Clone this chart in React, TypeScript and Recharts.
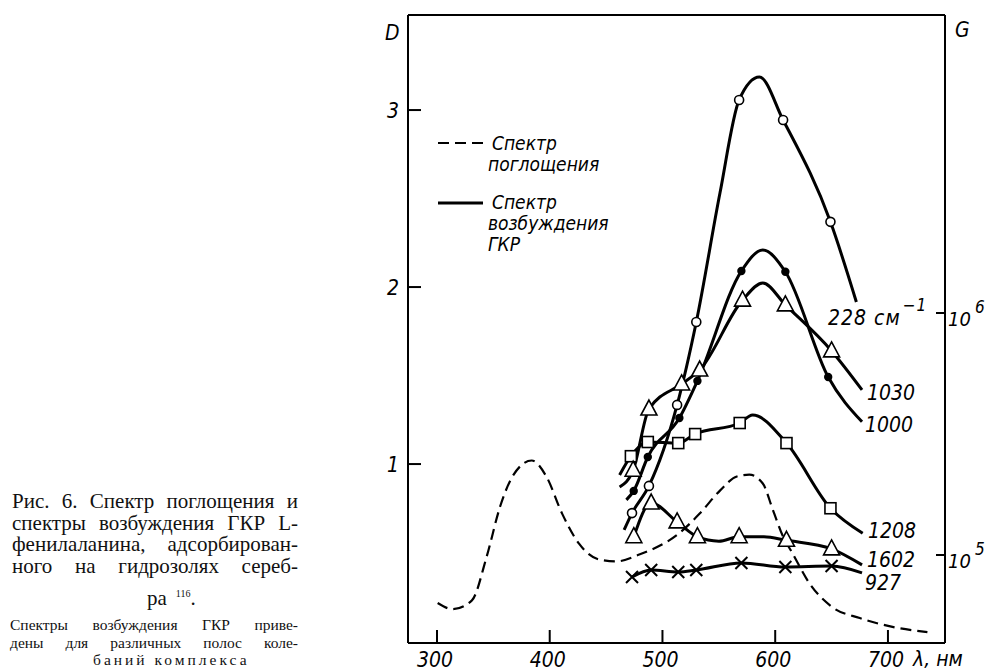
import React from "react";
import { ComposedChart, Line, XAxis, YAxis, ReferenceLine } from "recharts";

const FIG_FONT = "'DejaVu Sans Condensed', 'DejaVu Sans', sans-serif";
const TEXT_FONT = "'Liberation Serif', 'DejaVu Serif', serif";

const xTicks = [300, 400, 500, 600, 700];
const dTicks = [1, 2, 3];
const gTicks = [1e5, 1e6];

// спектр поглощения, D (левая шкала)
const absorption = [
  { l: 300.6, d: 0.215 },
  { l: 314, d: 0.18 },
  { l: 331, d: 0.23 },
  { l: 344, d: 0.475 },
  { l: 356, d: 0.76 },
  { l: 367, d: 0.93 },
  { l: 384, d: 1.02 },
  { l: 397, d: 0.93 },
  { l: 411, d: 0.72 },
  { l: 426, d: 0.55 },
  { l: 444, d: 0.46 },
  { l: 459, d: 0.45 },
  { l: 480, d: 0.49 },
  { l: 515, d: 0.61 },
  { l: 533, d: 0.72 },
  { l: 551, d: 0.85 },
  { l: 566, d: 0.93 },
  { l: 577, d: 0.94 },
  { l: 589, d: 0.89 },
  { l: 598, d: 0.74 },
  { l: 607, d: 0.59 },
  { l: 615, d: 0.5 },
  { l: 630, d: 0.33 },
  { l: 651, d: 0.19 },
  { l: 675, d: 0.13 },
  { l: 704, d: 0.08 },
  { l: 735, d: 0.05 },
];

// спектры возбуждения ГКР, G (правая шкала); m — точка с маркером
const band228 = [
  { l: 466, g: 1.27e5 },
  { l: 473, g: 1.49e5, m: true },
  { l: 488, g: 1.93e5, m: true },
  { l: 513, g: 4.17e5, m: true },
  { l: 530, g: 9.18e5, m: true },
  { l: 551, g: 3.13e6 },
  { l: 568, g: 7.59e6, m: true },
  { l: 586, g: 9.44e6 },
  { l: 607, g: 6.27e6, m: true },
  { l: 649, g: 2.38e6, m: true },
  { l: 672, g: 1.11e6 },
];

const band1000 = [
  { l: 468, g: 1.69e5 },
  { l: 474.5, g: 1.84e5, m: true },
  { l: 487, g: 2.54e5, m: true },
  { l: 515, g: 3.68e5, m: true },
  { l: 531, g: 5.24e5, m: true },
  { l: 570, g: 1.49e6, m: true },
  { l: 589, g: 1.82e6 },
  { l: 609, g: 1.48e6, m: true },
  { l: 647, g: 5.44e5, m: true },
  { l: 677, g: 3.55e5 },
];

const band1030 = [
  { l: 462, g: 1.91e5 },
  { l: 474, g: 2.24e5, m: true },
  { l: 488, g: 4.01e5, m: true },
  { l: 517, g: 5.09e5, m: true },
  { l: 533, g: 5.81e5, m: true },
  { l: 571, g: 1.13e6, m: true },
  { l: 589, g: 1.33e6 },
  { l: 609, g: 1.08e6, m: true },
  { l: 650, g: 6.97e5, m: true },
  { l: 677, g: 4.81e5 },
];

const band1208 = [
  { l: 462, g: 2.14e5 },
  { l: 472, g: 2.56e5, m: true },
  { l: 487, g: 2.93e5, m: true },
  { l: 514, g: 2.9e5, m: true },
  { l: 529, g: 3.16e5, m: true },
  { l: 568.5, g: 3.51e5, m: true },
  { l: 580, g: 3.79e5 },
  { l: 610, g: 2.9e5, m: true },
  { l: 649, g: 1.56e5, m: true },
  { l: 677.6, g: 1.23e5 },
];

const band1602 = [
  { l: 474.6, g: 1.19e5, m: true },
  { l: 490, g: 1.64e5, m: true },
  { l: 513, g: 1.37e5, m: true },
  { l: 531, g: 1.19e5, m: true },
  { l: 550, g: 1.14e5 },
  { l: 568, g: 1.19e5, m: true },
  { l: 590, g: 1.19e5 },
  { l: 610, g: 1.15e5, m: true },
  { l: 650, g: 1.06e5, m: true },
  { l: 677, g: 9.1e4 },
];

const band927 = [
  { l: 473, g: 8.11e4, m: true },
  { l: 490, g: 8.67e4, m: true },
  { l: 514, g: 8.51e4, m: true },
  { l: 530, g: 8.67e4, m: true },
  { l: 570, g: 9.27e4, m: true },
  { l: 609, g: 8.92e4, m: true },
  { l: 650, g: 9.0e4, m: true },
  { l: 677, g: 8.43e4 },
];

const marker = (kind: string) => (props: any) => {
  const { cx, cy, payload, index } = props;
  const k = `${kind}-${index}`;
  if (!payload || !payload.m || cx == null || cy == null) return <g key={k} />;
  if (kind === "circle")
    return <circle key={k} cx={cx} cy={cy} r={4.5} fill="#fff" stroke="#000" strokeWidth={1.6} />;
  if (kind === "dot") return <circle key={k} cx={cx} cy={cy} r={4.2} fill="#000" />;
  if (kind === "triangle")
    return (
      <path
        key={k}
        d={`M${cx},${cy - 9} L${cx + 8},${cy + 6} L${cx - 8},${cy + 6} Z`}
        fill="#fff"
        stroke="#000"
        strokeWidth={1.6}
      />
    );
  if (kind === "square")
    return (
      <rect key={k} x={cx - 5.5} y={cy - 5.5} width={11} height={11} fill="#fff" stroke="#000" strokeWidth={1.6} />
    );
  return (
    <path
      key={k}
      d={`M${cx - 6},${cy - 6} L${cx + 6},${cy + 6} M${cx + 6},${cy - 6} L${cx - 6},${cy + 6}`}
      stroke="#000"
      strokeWidth={2}
    />
  );
};

const XTick = (props: any) => {
  const { x, y, payload } = props;
  return (
    <g>
      <line x1={x} x2={x} y1={y} y2={y - 13} stroke="#000" strokeWidth={2} />
      <text x={x - 2} y={y + 24} textAnchor="middle" fontFamily={FIG_FONT} fontStyle="italic" fontSize={21} fill="#000">
        {payload.value}
      </text>
    </g>
  );
};

const DTick = (props: any) => {
  const { x, y, payload } = props;
  return (
    <g>
      <line x1={x} x2={x + 13} y1={y} y2={y} stroke="#000" strokeWidth={2} />
      <text x={x - 9} y={y + 8} textAnchor="end" fontFamily={FIG_FONT} fontStyle="italic" fontSize={21} fill="#000">
        {payload.value}
      </text>
    </g>
  );
};

const GTick = (props: any) => {
  const { x, y, payload } = props;
  const exp = Math.round(Math.log10(payload.value));
  return (
    <g>
      <line x1={x} x2={x - 9} y1={y} y2={y} stroke="#000" strokeWidth={2} />
      <text x={x + 3} y={y + 13} fontFamily={FIG_FONT} fontStyle="italic" fontSize={20} fill="#000">
        10
        <tspan dx={4} dy={-13} fontSize={17}>
          {exp}
        </tspan>
      </text>
    </g>
  );
};

const txt = { fontFamily: FIG_FONT, fontStyle: "italic" as const, fill: "#000" };

const lineStyle = {
  fontSize: 21,
  lineHeight: "21.7px",
  height: 21.7,
  whiteSpace: "nowrap" as const,
  textAlign: "justify" as const,
  textAlignLast: "justify" as const,
};
const smallStyle = {
  fontSize: 15.5,
  lineHeight: "17.5px",
  height: 17.5,
  whiteSpace: "nowrap" as const,
  textAlign: "justify" as const,
  textAlignLast: "justify" as const,
};

export default function App() {
  return (
    <div style={{ position: "absolute", left: 0, top: 0, width: 990, height: 672, background: "#fff" }}>
      <ComposedChart width={990} height={672} margin={{ top: 15, right: 0, bottom: 0, left: 368 }}>
        <XAxis
          type="number"
          dataKey="l"
          domain={[274.3, 750.6]}
          ticks={xTicks}
          allowDataOverflow
          height={29}
          tickSize={0}
          tickMargin={0}
          tick={<XTick />}
          axisLine={{ stroke: "#000", strokeWidth: 2 }}
        />
        <YAxis
          yAxisId="D"
          orientation="left"
          type="number"
          domain={[-0.011, 3.537]}
          ticks={dTicks}
          allowDataOverflow
          width={40}
          tickSize={0}
          tickMargin={0}
          tick={<DTick />}
          axisLine={{ stroke: "#000", strokeWidth: 2 }}
        />
        <YAxis
          yAxisId="G"
          orientation="right"
          type="number"
          scale="log"
          domain={[43290, 1.703e7]}
          ticks={gTicks}
          allowDataOverflow
          width={45}
          tickSize={0}
          tickMargin={0}
          tick={<GTick />}
          axisLine={{ stroke: "#000", strokeWidth: 2 }}
        />
        <ReferenceLine yAxisId="D" y={3.537} stroke="#000" strokeWidth={2} />
        <Line
          yAxisId="D"
          data={absorption}
          dataKey="d"
          type="monotone"
          stroke="#000"
          strokeWidth={2.2}
          strokeDasharray="11 6"
          dot={false}
          isAnimationActive={false}
        />
        <Line yAxisId="G" data={band927} dataKey="g" type="monotone" stroke="#000" strokeWidth={3} dot={marker("cross")} isAnimationActive={false} />
        <Line yAxisId="G" data={band1602} dataKey="g" type="monotone" stroke="#000" strokeWidth={3} dot={marker("triangle")} isAnimationActive={false} />
        <Line yAxisId="G" data={band1208} dataKey="g" type="monotone" stroke="#000" strokeWidth={3} dot={marker("square")} isAnimationActive={false} />
        <Line yAxisId="G" data={band1000} dataKey="g" type="monotone" stroke="#000" strokeWidth={3} dot={marker("dot")} isAnimationActive={false} />
        <Line yAxisId="G" data={band1030} dataKey="g" type="monotone" stroke="#000" strokeWidth={3} dot={marker("triangle")} isAnimationActive={false} />
        <Line yAxisId="G" data={band228} dataKey="g" type="monotone" stroke="#000" strokeWidth={3} dot={marker("circle")} isAnimationActive={false} />
      </ComposedChart>

      <svg width={990} height={672} style={{ position: "absolute", left: 0, top: 0, pointerEvents: "none" }}>
        <text x={385} y={40} fontSize={21} {...txt}>D</text>
        <text x={955} y={37} fontSize={21} {...txt}>G</text>

        <line x1={438} x2={483} y1={143} y2={143} stroke="#000" strokeWidth={2.2} strokeDasharray="11 6" />
        <text x={492} y={150} fontSize={19} {...txt}>Спектр</text>
        <text x={488} y={171} fontSize={19} {...txt}>поглощения</text>

        <line x1={438} x2={483} y1={203} y2={203} stroke="#000" strokeWidth={3.2} />
        <text x={492} y={209} fontSize={19} {...txt}>Спектр</text>
        <text x={488} y={230} fontSize={19} {...txt}>возбуждения</text>
        <text x={488} y={251} fontSize={19} {...txt}>ГКР</text>

        <text x={828} y={325} fontSize={21} letterSpacing={1} {...txt}>
          228 см
          <tspan dx={2} dy={-14} fontSize={17}>−1</tspan>
        </text>
        <text x={867} y={400} fontSize={21} {...txt}>1030</text>
        <text x={865} y={432} fontSize={21} {...txt}>1000</text>
        <text x={868} y={538} fontSize={21} {...txt}>1208</text>
        <text x={867} y={567} fontSize={21} {...txt}>1602</text>
        <text x={865} y={590} fontSize={21} {...txt}>927</text>
        <text x={913} y={666} fontSize={21} {...txt}>λ, нм</text>
      </svg>

      <div style={{ position: "absolute", left: 12, top: 491, width: 286, fontFamily: TEXT_FONT, color: "#111" }}>
        <div style={lineStyle}>Рис. 6. Спектр поглощения и</div>
        <div style={lineStyle}>спектры возбуждения ГКР L-</div>
        <div style={lineStyle}>фенилаланина, адсорбирован-</div>
        <div style={lineStyle}>ного на гидрозолях сереб-</div>
      </div>
      <div style={{ position: "absolute", left: 147, top: 588, fontFamily: TEXT_FONT, fontSize: 21, lineHeight: "21.7px", whiteSpace: "nowrap", color: "#111" }}>
        ра<sup style={{ fontSize: 10, verticalAlign: "top", marginLeft: 9, position: "relative", top: -5 }}>116</sup>.
      </div>
      <div style={{ position: "absolute", left: 10, top: 616, width: 288, fontFamily: TEXT_FONT, color: "#111" }}>
        <div style={smallStyle}>Спектры возбуждения ГКР приве-</div>
        <div style={smallStyle}>дены для различных полос коле-</div>
        <div style={{ ...smallStyle, textAlign: "left", textAlignLast: "left", paddingLeft: 83, letterSpacing: 3 }}>
          баний комплекса
        </div>
      </div>
    </div>
  );
}
